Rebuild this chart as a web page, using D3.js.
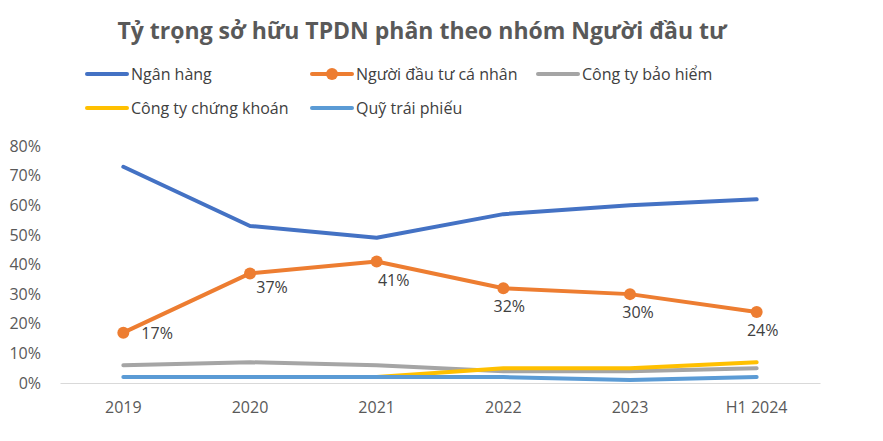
<!DOCTYPE html>
<html><head><meta charset="utf-8">
<script src="https://cdn.jsdelivr.net/npm/d3@7"></script>
<style>
html,body{margin:0;padding:0;background:#fff;}
svg{display:block;font-family:"Open Sans",sans-serif;}
</style></head>
<body><svg id="c" width="883" height="441"></svg>
<script>
const categories = ["2019","2020","2021","2022","2023","H1 2024"];
const nganHang = [73, 53, 49, 57, 60, 62];
const caNhan = [17, 37, 41, 32, 30, 24];
const baoHiem = [6, 7, 6, 4, 4, 5];
const chungKhoan = [null, null, 2, 5, 5, 7];
const quyTraiPhieu = [2, 2, 2, 2, 1, 2];
const yTicks = [0,10,20,30,40,50,60,70,80];
const title = "Tỷ trọng sở hữu TPDN phân theo nhóm Người đầu tư";

// label placement (layout only)
const labelDx = [18, 22, 17, 6, 8, 6];
const labelDy = [6, 20, 24, 24, 24, 24];

const series = [
  {name:"Ngân hàng", values:nganHang, color:"#4472C4", marker:false},
  {name:"Người đầu tư cá nhân", values:caNhan, color:"#ED7D31", marker:true},
  {name:"Công ty bảo hiểm", values:baoHiem, color:"#A5A5A5", marker:false},
  {name:"Công ty chứng khoán", values:chungKhoan, color:"#FFC000", marker:false},
  {name:"Quỹ trái phiếu", values:quyTraiPhieu, color:"#5B9BD5", marker:false}
];

const svg = d3.select("#c");
const m = {left:60, right:820, top:146, bottom:383};

const x = d3.scaleBand().domain(categories).range([m.left, m.right]);
const y = d3.scaleLinear().domain([0,80]).range([m.bottom, m.top]);

svg.append("text").attr("x", 422).attr("y", 39).attr("text-anchor","middle")
  .attr("font-size", 23).attr("font-weight","bold").attr("fill","#595959").text(title);

// y axis labels
const yAx = svg.append("g").attr("transform",`translate(${m.left-16},0)`)
  .call(d3.axisLeft(y).tickValues(yTicks).tickFormat(d=>d+"%").tickSize(0));
yAx.select(".domain").remove();
yAx.selectAll("text").attr("font-size",16).attr("fill","#595959").attr("font-family","Open Sans");

// x axis
const xAx = svg.append("g").attr("transform",`translate(0,${m.bottom})`)
  .call(d3.axisBottom(x).tickSize(0).tickPadding(19));
xAx.select(".domain").attr("stroke","#D9D9D9").attr("stroke-width",1.2);
xAx.selectAll("text").attr("font-size",16).attr("fill","#595959").attr("font-family","Open Sans");

const cx = d => x(d) + x.bandwidth()/2;
const line = d3.line().defined(d=>d.v!=null).x(d=>cx(d.c)).y(d=>y(d.v));

series.forEach(s=>{
  const pts = categories.map((c,i)=>({c, v:s.values[i]}));
  svg.append("path").datum(pts).attr("d", line).attr("fill","none")
    .attr("stroke", s.color).attr("stroke-width",4).attr("stroke-linejoin","round").attr("stroke-linecap","round");
  if (s.marker) {
    svg.selectAll(null).data(pts).enter().append("circle")
      .attr("cx", d=>cx(d.c)).attr("cy", d=>y(d.v)).attr("r",6).attr("fill", s.color);
    svg.selectAll(null).data(pts).enter().append("text")
      .attr("x", (d,i)=> cx(d.c)+labelDx[i])
      .attr("y", (d,i)=> y(d.v)+labelDy[i])
      .attr("text-anchor", (d,i)=> i===0 ? "start" : "middle")
      .attr("font-size",16).attr("fill","#404040").text(d=>d.v+"%");
  }
});

// legend
const legendPos = [
  {x:87, y:74}, {x:312, y:74}, {x:538, y:74},
  {x:87, y:108}, {x:312, y:108}
];
series.forEach((s,i)=>{
  const p = legendPos[i];
  const g = svg.append("g").attr("transform",`translate(${p.x},${p.y})`);
  g.append("line").attr("x1",0).attr("x2",40).attr("y1",0).attr("y2",0)
    .attr("stroke",s.color).attr("stroke-width",4).attr("stroke-linecap","round");
  if (s.marker) g.append("circle").attr("cx",20).attr("cy",0).attr("r",6).attr("fill",s.color);
  g.append("text").attr("x",44).attr("y",5.5).attr("font-size",16).attr("fill","#404040").text(s.name);
});
</script></body></html>
